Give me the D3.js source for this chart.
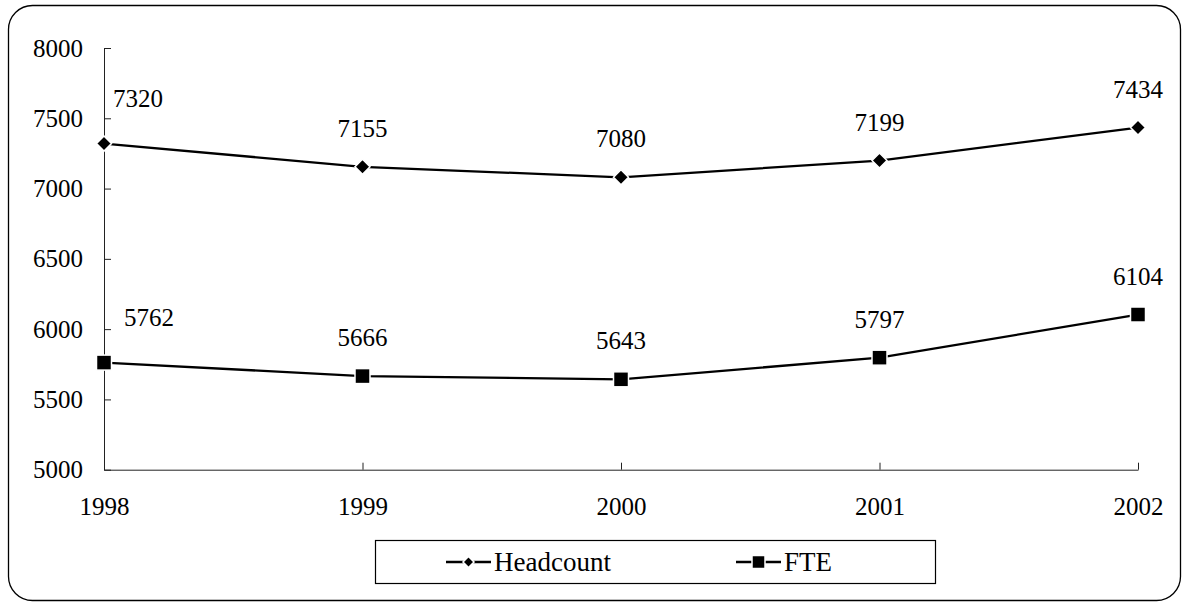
<!DOCTYPE html>
<html>
<head>
<meta charset="utf-8">
<script src="https://cdn.jsdelivr.net/npm/d3@7"></script>
<style>
  html, body { margin: 0; padding: 0; background: #fff; }
  svg { display: block; }
  text { font-family: "Liberation Serif", "Times New Roman", serif; fill: #000; }
</style>
</head>
<body>
<svg id="chart" width="1182" height="602"></svg>
<script>
const years = ["1998", "1999", "2000", "2001", "2002"];
const headcount = [7320, 7155, 7080, 7199, 7434];
const fte = [5762, 5666, 5643, 5797, 6104];
const yTicks = [5000, 5500, 6000, 6500, 7000, 7500, 8000];
const seriesNames = ["Headcount", "FTE"];

const svg = d3.select("#chart");
const fontSize = 25;

// Outer rounded border
svg.append("rect")
  .attr("x", 8.5).attr("y", 5.5)
  .attr("width", 1172).attr("height", 595)
  .attr("rx", 24).attr("ry", 24)
  .attr("fill", "#fff").attr("stroke", "#000").attr("stroke-width", 1.3);

const x = d3.scalePoint().domain(years).range([104, 1138]);
const y = d3.scaleLinear().domain([5000, 8000]).range([469.7, 48]);

// Y axis (inside ticks)
const yAxis = svg.append("g").attr("transform", "translate(104,0)")
  .call(d3.axisLeft(y).tickValues(yTicks).tickFormat(d3.format("d"))
    .tickSize(-7).tickPadding(21).tickSizeOuter(0));
yAxis.attr("font-family", null);
yAxis.select(".domain").attr("stroke", "#222");
yAxis.selectAll(".tick line").attr("stroke", "#222");
yAxis.selectAll(".tick text").attr("font-size", fontSize);

// X axis (inside ticks)
const xAxis = svg.append("g").attr("transform", "translate(0,469.7)")
  .call(d3.axisBottom(x).tickSize(-7).tickPadding(28).tickSizeOuter(0));
xAxis.attr("font-family", null);
xAxis.select(".domain").attr("stroke", "#222");
xAxis.selectAll(".tick line").attr("stroke", "#222");
xAxis.selectAll(".tick text").attr("font-size", fontSize);

const line = d3.line().x((d, i) => x(years[i])).y(d => y(d));

const series = [
  { name: seriesNames[0], values: headcount, marker: "diamond" },
  { name: seriesNames[1], values: fte, marker: "square" }
];

function drawMarker(g, type, cx, cy, r) {
  if (type === "diamond") {
    g.append("path")
      .attr("d", `M${cx},${cy - r}L${cx + r},${cy}L${cx},${cy + r}L${cx - r},${cy}Z`)
      .attr("fill", "#000").attr("stroke", "#fff").attr("stroke-width", 1.5);
  } else {
    g.append("rect")
      .attr("x", cx - r).attr("y", cy - r)
      .attr("width", 2 * r).attr("height", 2 * r)
      .attr("fill", "#000").attr("stroke", "#fff").attr("stroke-width", 1.5);
  }
}

series.forEach((s, si) => {
  const g = svg.append("g");
  g.append("path").datum(s.values)
    .attr("d", line)
    .attr("fill", "none").attr("stroke", "#000").attr("stroke-width", 2.3);
  s.values.forEach((v, i) => {
    drawMarker(g, s.marker, x(years[i]), y(v), s.marker === "diamond" ? 7.5 : 7.5);
  });
  s.values.forEach((v, i) => {
    // first label is nudged right of the axis
    const dx = i === 0 ? (si === 0 ? 34 : 45) : 0;
    const dy = i === 0 ? -37 : -30;
    g.append("text")
      .attr("x", x(years[i]) + dx)
      .attr("y", y(v) + dy)
      .attr("text-anchor", "middle")
      .attr("font-size", fontSize)
      .text(v);
  });
});

// Legend
const lg = svg.append("g");
lg.append("rect")
  .attr("x", 375.5).attr("y", 540.5).attr("width", 560).attr("height", 43)
  .attr("fill", "#fff").attr("stroke", "#000").attr("stroke-width", 1.2);
const legendItems = [
  { name: seriesNames[0], marker: "diamond", x0: 446, r: 5.5 },
  { name: seriesNames[1], marker: "square", x0: 736, r: 6.5 }
];
legendItems.forEach(it => {
  const cy = 562;
  lg.append("line").attr("x1", it.x0).attr("x2", it.x0 + 45)
    .attr("y1", cy).attr("y2", cy).attr("stroke", "#000").attr("stroke-width", 2.3);
  drawMarker(lg, it.marker, it.x0 + 22.5, cy, it.r);
  lg.append("text").attr("x", it.x0 + 48).attr("y", cy + 9)
    .attr("font-size", 27).text(it.name);
});
</script>
</body>
</html>
